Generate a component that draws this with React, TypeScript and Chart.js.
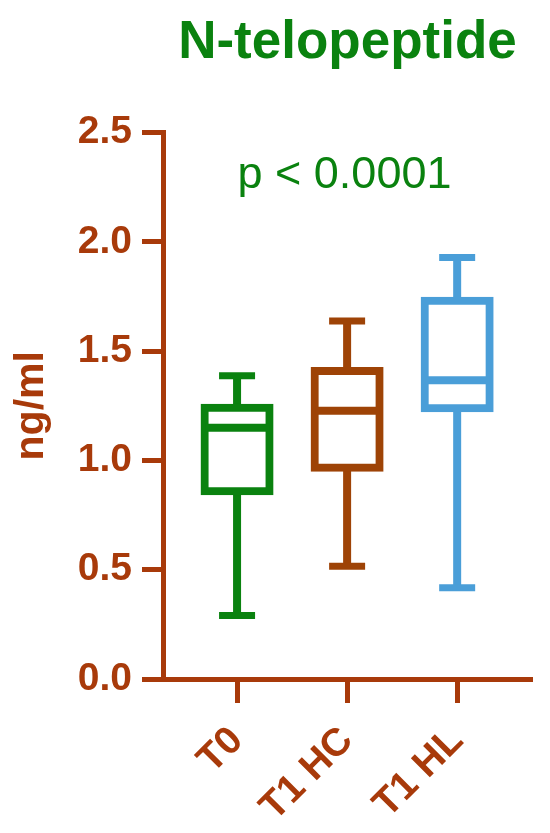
import React, { useEffect, useRef } from "react";
import { Chart, registerables } from "chart.js";

Chart.register(...registerables);

const categories = ["T0", "T1 HC", "T1 HL"];
const whiskerMin = [0.29, 0.516, 0.417];
const q1 = [0.859, 0.967, 1.239];
const median = [1.149, 1.227, 1.367];
const q3 = [1.241, 1.409, 1.731];
const whiskerMax = [1.387, 1.638, 1.928];
const yTicks = [0, 0.5, 1.0, 1.5, 2.0, 2.5];

const boxColors = ["#0a820f", "#9e4306", "#4a9ed8"];
const AXIS = "#a83a0a";
const GREEN = "#0a820f";
const FONT = "'Liberation Sans', Arial, Helvetica, sans-serif";

const pValuePlugin = {
  id: "pValue",
  afterDraw(chart: any) {
    const { ctx, chartArea, scales } = chart;
    ctx.save();
    ctx.fillStyle = GREEN;
    ctx.font = `45px ${FONT}`;
    ctx.textAlign = "center";
    ctx.textBaseline = "alphabetic";
    const x = (chartArea.left + chartArea.right) / 2 - 3;
    const y = scales.y.getPixelForValue(2.245);
    ctx.fillText("p < 0.0001", x, y);
    ctx.restore();
  },
};

export default function App() {
  const ref = useRef<HTMLCanvasElement | null>(null);

  useEffect(() => {
    if (!ref.current) return;
    const idx = categories.map((_, i) => i);
    const chart = new Chart(ref.current, {
      data: {
        datasets: [
          {
            type: "bar",
            label: "whiskers",
            data: idx.map((i) => ({ x: i, y: [whiskerMin[i], whiskerMax[i]] })) as any,
            backgroundColor: boxColors,
            borderWidth: 0,
            barThickness: 8,
            grouped: false,
            inflateAmount: 0,
            order: 4,
          } as any,
          {
            type: "bar",
            label: "box",
            data: idx.map((i) => ({ x: i, y: [q1[i], q3[i]] })) as any,
            backgroundColor: "#ffffff",
            borderColor: boxColors,
            borderWidth: 8,
            borderSkipped: false,
            barThickness: 65,
            inflateAmount: 4,
            grouped: false,
            order: 3,
          } as any,
          {
            type: "scatter",
            label: "median",
            data: idx.map((i) => ({ x: i, y: median[i] })),
            pointStyle: "line",
            radius: 32,
            borderWidth: 8,
            borderColor: boxColors,
            order: 2,
          } as any,
          {
            type: "scatter",
            label: "caps",
            data: [
              ...idx.map((i) => ({ x: i, y: whiskerMin[i] })),
              ...idx.map((i) => ({ x: i, y: whiskerMax[i] })),
            ],
            pointStyle: "line",
            radius: 18,
            borderWidth: 7,
            borderColor: [...boxColors, ...boxColors],
            order: 1,
          } as any,
        ],
      },
      options: {
        animation: false,
        responsive: false,
        events: [],
        layout: { autoPadding: false, padding: { left: 0, right: 18, top: 0, bottom: 0 } },
        plugins: {
          legend: { display: false },
          tooltip: { enabled: false },
          title: {
            display: true,
            text: "N-telopeptide",
            color: GREEN,
            fullSize: false,
            font: { family: FONT, size: 53, weight: "bold" },
            padding: { top: 12, bottom: 57 },
          },
        },
        scales: {
          x: {
            type: "linear",
            min: -0.673,
            max: 2.68,
            offset: false,
            afterBuildTicks: (scale: any) => {
              scale.ticks = idx.map((i) => ({ value: i }));
            },
            afterFit: (scale: any) => {
              scale.height = 154;
              scale.paddingLeft = 0;
              scale.paddingRight = 0;
            },
            ticks: {
              callback: (v: any) => categories[Math.round(Number(v))] ?? "",
              color: AXIS,
              font: { family: FONT, size: 39, weight: "bold" },
              minRotation: 45,
              maxRotation: 45,
              padding: 15,
              autoSkip: false,
            },
            grid: {
              offset: false,
              drawOnChartArea: false,
              drawTicks: true,
              tickLength: 24,
              tickWidth: 5,
              tickColor: AXIS,
            },
            border: { display: true, color: AXIS, width: 5 },
          },
          y: {
            type: "linear",
            min: 0,
            max: 2.5,
            afterBuildTicks: (scale: any) => {
              scale.ticks = yTicks.map((v) => ({ value: v }));
            },
            afterFit: (scale: any) => {
              scale.width = 163;
            },
            ticks: {
              callback: (v: any) => Number(v).toFixed(1),
              color: AXIS,
              font: { family: FONT, size: 39, weight: "bold" },
              padding: 10,
            },
            grid: {
              drawOnChartArea: false,
              drawTicks: true,
              tickLength: 21,
              tickWidth: 5,
              tickColor: AXIS,
            },
            border: { display: true, color: AXIS, width: 5 },
            title: {
              display: true,
              text: "ng/ml",
              color: AXIS,
              font: { family: FONT, size: 41, weight: "bold" },
              padding: { top: 7, bottom: 0 },
            },
          },
        },
      } as any,
      plugins: [pValuePlugin],
    });
    return () => chart.destroy();
  }, []);

  return (
    <div style={{ position: "absolute", left: 0, top: 0, width: 550, height: 833, background: "#fff" }}>
      <canvas ref={ref} width={550} height={833} style={{ width: 550, height: 833, display: "block" }} />
    </div>
  );
}
